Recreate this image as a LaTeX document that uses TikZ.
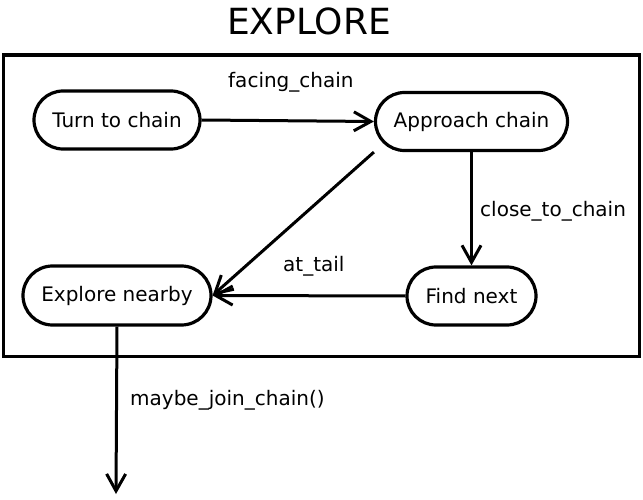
\documentclass[tikz,border=0pt]{standalone}
\usepackage{fontspec}
\setmainfont{DejaVu Sans}
\usetikzlibrary{shapes.misc,arrows.meta}
\tikzset{
  state/.style={draw, line width=3.2pt, rounded rectangle, inner sep=0pt, font=\fontsize{20}{24}\selectfont},
  trans/.style={line width=3pt, -{Straight Barb[length=17pt,width=19pt,line width=3pt]}},
  lbl/.style={anchor=base west, inner sep=0pt, font=\fontsize{20}{24}\selectfont},
}
\begin{document}
\begin{tikzpicture}[x=1pt,y=-1pt]
\useasboundingbox (0,0) rectangle (643,500);
\node[anchor=base, inner sep=0pt, font=\fontsize{36}{40}\selectfont] (title) at (309,35) {EXPLORE};
\node[draw, line width=3.4pt, minimum width=636pt, minimum height=301.5pt, anchor=north west, inner sep=0pt] (frame) at (1.7,53.5) {};
\node[state, minimum width=166pt, minimum height=58pt] (turn) at (117,120) {Turn to chain};
\node[state, minimum width=192pt, minimum height=58pt] (approach) at (471.5,121.5) {Approach chain};
\node[state, minimum width=188pt, minimum height=59pt] (explore) at (117,295.5) {Explore nearby};
\node[state, minimum width=129pt, minimum height=58pt] (find) at (471.5,296) {Find next};
\coordinate (diagstart) at (approach.west |- approach.south);
\coordinate (exitend) at (116,494);
\draw[trans] (turn.east) -- (approach.west);
\draw[trans] (approach.south) -- (find.north);
\draw[trans] (diagstart) -- (explore.east);
\draw[trans] (find.west) -- (explore.east);
\draw[trans] (explore.south) -- (exitend);
\node[lbl] (l1) at (228,88) {facing\_chain};
\node[lbl] (l2) at (480,216) {close\_to\_chain};
\node[lbl] (l3) at (283,271) {at\_tail};
\node[lbl] (l4) at (130,405) {maybe\_join\_chain()};
\end{tikzpicture}
\end{document}
